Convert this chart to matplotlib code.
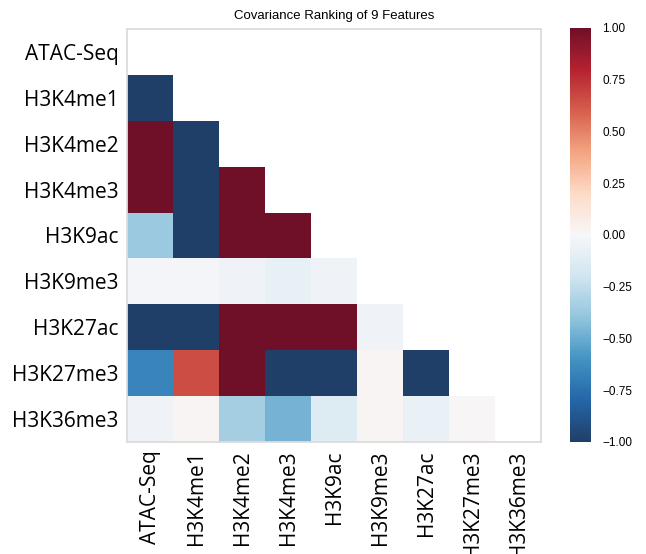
import matplotlib
matplotlib.use("Agg")
import matplotlib.pyplot as plt
from matplotlib.colors import LinearSegmentedColormap
import numpy as np

features = ["ATAC-Seq", "H3K4me1", "H3K4me2", "H3K4me3", "H3K9ac",
            "H3K9me3", "H3K27ac", "H3K27me3", "H3K36me3"]

# lower triangle of the (clipped) covariance matrix, one row per feature
cov_rows = [
    [],
    [-1.0],
    [1.0, -1.0],
    [1.0, -1.0, 1.0],
    [-0.37, -1.0, 1.0, 1.0],
    [-0.02, -0.02, -0.04, -0.08, -0.04],
    [-1.0, -1.0, 1.0, 1.0, 1.0, -0.04],
    [-0.66, 0.66, 1.0, -1.0, -1.0, 0.02, -1.0],
    [-0.04, 0.02, -0.34, -0.47, -0.14, 0.02, -0.07, 0.01],
]

title = "Covariance Ranking of 9 Features"
cbar_ticks = [-1.0, -0.75, -0.5, -0.25, 0.0, 0.25, 0.5, 0.75, 1.0]

# RdBu_r with slightly softened end colours
cmap = LinearSegmentedColormap.from_list("rdbu_soft", [
    "#203f68", "#2466a8", "#4393c3", "#92c5de", "#d1e5f0", "#f7f7f9",
    "#fddbc7", "#f4a582", "#d6604d", "#b52231", "#6f1028"])

n = len(features)
mat = np.zeros((n, n))
mask = np.ones((n, n), dtype=bool)
for i, row in enumerate(cov_rows):
    for j, v in enumerate(row):
        mat[i, j] = v
        mask[i, j] = False
data = np.ma.masked_array(mat, mask=mask)

fig = plt.figure(figsize=(6.46, 5.54), dpi=100)
ax = fig.add_axes([0.1966, 0.2022, 0.6409, 0.7455])
cax = fig.add_axes([0.8824, 0.2022, 0.0325, 0.7473])

mesh = ax.pcolormesh(np.arange(n + 1), np.arange(n + 1), data,
                     cmap=cmap, vmin=-1, vmax=1)
ax.set_xlim(0, n)
ax.set_ylim(n, 0)
ax.set_aspect("auto")

ax.set_xticks(np.arange(n) + 0.5)
ax.set_yticks(np.arange(n) + 0.5)
ax.set_xticklabels(features, rotation=90, fontsize=15, family="Open Sans")
ax.set_yticklabels(features, fontsize=15, family="Open Sans")
ax.tick_params(length=0, pad=6)
for sp in ax.spines.values():
    sp.set_color("#dcdcdc")
    sp.set_linewidth(1.3)

ax.set_title(title, fontsize=9.5, family="Liberation Sans", pad=7)

cb = fig.colorbar(mesh, cax=cax, ticks=cbar_ticks)
cb.outline.set_visible(False)
cb.ax.tick_params(length=0, pad=8, labelsize=8.5)
cb.ax.set_yticklabels(["%.2f" % t if t >= 0 else "\u2212%.2f" % -t for t in cbar_ticks],
                      family="Liberation Sans")

fig.savefig("out.png", dpi=100)
